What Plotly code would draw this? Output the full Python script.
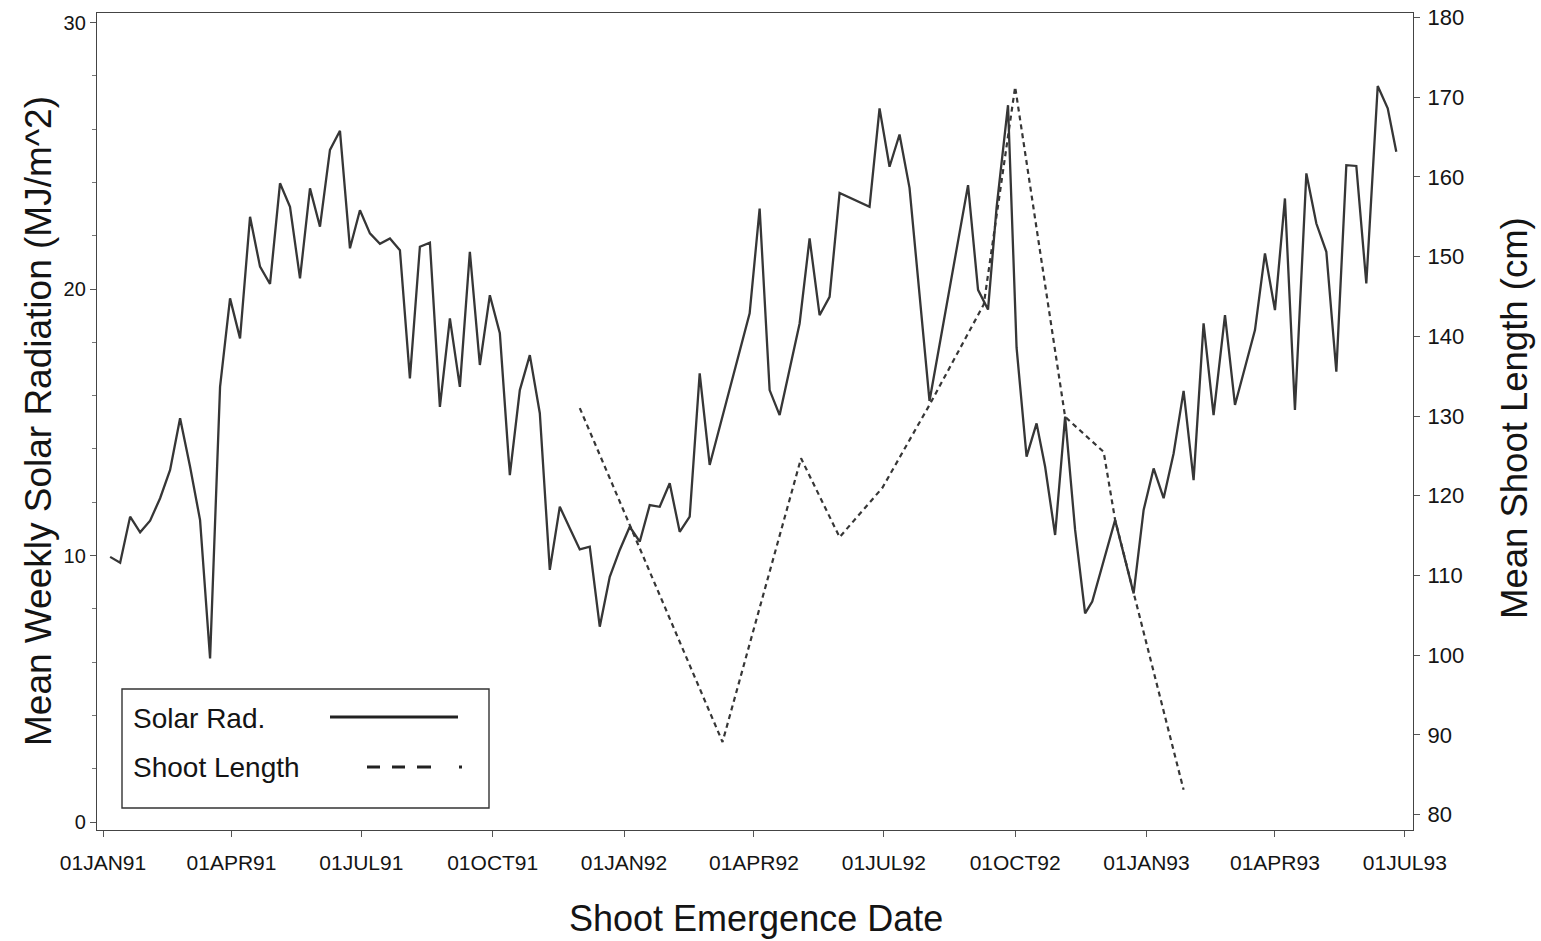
import plotly.graph_objects as go

# Weekly mean solar radiation (MJ/m^2) by shoot emergence date
solar_dates = [
    "1991-01-06", "1991-01-13", "1991-01-20", "1991-01-27", "1991-02-03", "1991-02-10",
    "1991-02-17", "1991-02-24", "1991-03-03", "1991-03-10", "1991-03-17", "1991-03-24",
    "1991-03-31", "1991-04-07", "1991-04-14", "1991-04-21", "1991-04-28", "1991-05-05",
    "1991-05-12", "1991-05-19", "1991-05-26", "1991-06-02", "1991-06-09", "1991-06-16",
    "1991-06-23", "1991-06-30", "1991-07-07", "1991-07-14", "1991-07-21", "1991-07-28",
    "1991-08-04", "1991-08-11", "1991-08-18", "1991-08-25", "1991-09-01", "1991-09-08",
    "1991-09-15", "1991-09-22", "1991-09-29", "1991-10-06", "1991-10-13", "1991-10-20",
    "1991-10-27", "1991-11-03", "1991-11-10", "1991-11-17", "1991-11-24", "1991-12-01",
    "1991-12-08", "1991-12-15", "1991-12-22", "1991-12-29", "1992-01-05", "1992-01-12",
    "1992-01-19", "1992-01-26", "1992-02-02", "1992-02-09", "1992-02-16", "1992-02-23",
    "1992-03-01", "1992-03-29", "1992-04-05", "1992-04-12", "1992-04-19", "1992-05-03",
    "1992-05-10", "1992-05-17", "1992-05-24", "1992-05-31", "1992-06-21", "1992-06-28",
    "1992-07-05", "1992-07-12", "1992-07-19", "1992-08-02", "1992-08-29", "1992-09-05",
    "1992-09-12", "1992-09-18", "1992-09-26", "1992-10-02", "1992-10-09", "1992-10-16",
    "1992-10-22", "1992-10-29", "1992-11-05", "1992-11-12", "1992-11-19", "1992-11-24",
    "1992-12-10", "1992-12-23", "1992-12-30", "1993-01-06", "1993-01-13", "1993-01-20",
    "1993-01-27", "1993-02-03", "1993-02-10", "1993-02-17", "1993-02-25", "1993-03-04",
    "1993-03-18", "1993-03-25", "1993-04-01", "1993-04-08", "1993-04-15", "1993-04-23",
    "1993-04-30", "1993-05-07", "1993-05-14", "1993-05-21", "1993-05-28", "1993-06-04",
    "1993-06-12", "1993-06-19", "1993-06-25",
]
solar_mjm2 = [
    9.95, 9.73, 11.46, 10.87, 11.31, 12.15,
    13.21, 15.15, 13.33, 11.33, 6.14, 16.33,
    19.65, 18.15, 22.71, 20.84, 20.19, 23.97,
    23.09, 20.40, 23.78, 22.34, 25.22, 25.94,
    21.53, 22.96, 22.09, 21.70, 21.90, 21.46,
    16.65, 21.59, 21.74, 15.58, 18.90, 16.33,
    21.40, 17.15, 19.77, 18.34, 13.02, 16.21,
    17.52, 15.34, 9.46, 11.83, 11.02, 10.23,
    10.33, 7.33, 9.20, 10.21, 11.08, 10.52,
    11.89, 11.83, 12.71, 10.89, 11.46, 16.84,
    13.40, 19.09, 23.02, 16.21, 15.27, 18.71,
    21.90, 19.02, 19.71, 23.61, 23.09, 26.78,
    24.59, 25.80, 23.80, 15.80, 23.90, 19.97,
    19.23, 23.07, 26.90, 17.80, 13.71, 14.96,
    13.33, 10.77, 15.21, 10.96, 7.83, 8.27,
    11.33, 8.58, 11.71, 13.27, 12.15, 13.83,
    16.18, 12.83, 18.71, 15.27, 19.02, 15.65,
    18.46, 21.34, 19.21, 23.40, 15.46, 24.34,
    22.46, 21.40, 16.90, 24.65, 24.62, 20.21,
    27.62, 26.78, 25.15,
]

# Mean shoot length (cm) by shoot emergence date
shoot_dates = [
    "1991-12-01", "1992-03-10", "1992-05-04", "1992-05-31", "1992-06-30", "1992-08-02",
    "1992-09-09", "1992-10-01", "1992-11-05", "1992-12-02", "1992-12-10", "1993-01-27",
]
shoot_length_cm = [
    131.0, 89.1, 124.7, 114.8, 121.0, 131.4,
    144.0, 171.3, 129.9, 125.5, 117.0, 83.1,
]

x_tick_dates = [
    "1991-01-01", "1991-04-01", "1991-07-01", "1991-10-01", "1992-01-01",
    "1992-04-01", "1992-07-01", "1992-10-01", "1993-01-01", "1993-04-01", "1993-07-01",
]
x_tick_labels = [
    "01JAN91", "01APR91", "01JUL91", "01OCT91", "01JAN92",
    "01APR92", "01JUL92", "01OCT92", "01JAN93", "01APR93", "01JUL93",
]
left_ticks = [0, 10, 20, 30]
left_minor_ticks = list(range(0, 31, 2))
right_ticks = [80, 90, 100, 110, 120, 130, 140, 150, 160, 170, 180]

# Page and plot-area geometry (pixels)
W, H = 1541, 941
L, R, T, B = 97, 1413, 13, 830
INK = "#363636"
TEXT = "#141414"
FONT = "Liberation Sans, Arial, sans-serif"


def px(x):
    return (x - L) / (R - L)


def py(y):
    return (B - y) / (B - T)


fig = go.Figure()
fig.add_trace(go.Scatter(
    x=solar_dates, y=solar_mjm2, mode="lines", name="Solar Rad.",
    line=dict(color=INK, width=2.3), showlegend=False,
))
fig.add_trace(go.Scatter(
    x=shoot_dates, y=shoot_length_cm, mode="lines", name="Shoot Length",
    line=dict(color=INK, width=2.2, dash="5px,4px"), yaxis="y2", showlegend=False,
))

axis_line = dict(showline=True, linecolor="#444", linewidth=1.4, showgrid=False,
                 zeroline=False, automargin=False)

fig.update_layout(
    width=W, height=H,
    margin=dict(l=L, r=W - R, t=T, b=H - B, autoexpand=False),
    plot_bgcolor="white", paper_bgcolor="white",
    font=dict(family=FONT, color=TEXT),
    xaxis=dict(
        type="date", range=["1990-12-27 19:00", "1993-07-06 17:00"],
        tickmode="array", tickvals=x_tick_dates, ticktext=x_tick_labels,
        ticks="outside", ticklen=6, tickcolor="#555", tickwidth=1,
        ticklabelstandoff=8,
        tickfont=dict(size=21, color=TEXT), mirror=True, **axis_line,
    ),
    yaxis=dict(
        range=[-0.3, 30.36], tickmode="array", tickvals=left_ticks,
        ticks="outside", ticklen=6, tickcolor="#555", tickwidth=1,
        minor=dict(tickmode="array", tickvals=left_minor_ticks, ticks="outside",
                   ticklen=4, tickcolor="#777"),
        tickfont=dict(size=20, color=TEXT), **axis_line,
    ),
    yaxis2=dict(
        overlaying="y", side="right", range=[78.06, 180.57],
        tickmode="array", tickvals=right_ticks,
        ticks="outside", ticklen=6, tickcolor="#555", tickwidth=1,
        ticklabelstandoff=3,
        tickfont=dict(size=22, color=TEXT), **axis_line,
    ),
)

# Axis titles
fig.add_annotation(text="Shoot Emergence Date", x=px(756), y=py(918), xref="paper", yref="paper",
                   showarrow=False, xanchor="center", yanchor="middle",
                   font=dict(size=36, color=TEXT, family=FONT))
fig.add_annotation(text="Mean Weekly Solar Radiation (MJ/m^2)", x=px(38), y=py(421),
                   xref="paper", yref="paper", textangle=-90, showarrow=False,
                   xanchor="center", yanchor="middle",
                   font=dict(size=37, color=TEXT, family=FONT))
fig.add_annotation(text="Mean Shoot Length (cm)", x=px(1514), y=py(418),
                   xref="paper", yref="paper", textangle=-90, showarrow=False,
                   xanchor="center", yanchor="middle",
                   font=dict(size=36.5, color=TEXT, family=FONT))

# Key box with line samples to the right of each label
fig.add_shape(type="rect", xref="paper", yref="paper",
              x0=px(122), x1=px(489), y0=py(808), y1=py(689),
              line=dict(color="#333", width=1.4), fillcolor="white")
fig.add_annotation(text="Solar Rad.", x=px(131), y=py(718), xref="paper", yref="paper",
                   showarrow=False, xanchor="left", yanchor="middle",
                   font=dict(size=28, color=TEXT, family=FONT))
fig.add_annotation(text="Shoot Length", x=px(131), y=py(767), xref="paper", yref="paper",
                   showarrow=False, xanchor="left", yanchor="middle",
                   font=dict(size=28, color=TEXT, family=FONT))
fig.add_shape(type="line", xref="paper", yref="paper",
              x0=px(330), x1=px(458), y0=py(717), y1=py(717),
              line=dict(color="#222", width=3.2))
fig.add_shape(type="line", xref="paper", yref="paper",
              x0=px(367), x1=px(464), y0=py(767), y1=py(767),
              line=dict(color="#222", width=3.2, dash="13px,12px,13px,12px,14px,28px,3px,50px"))

fig.write_html("out.html")
